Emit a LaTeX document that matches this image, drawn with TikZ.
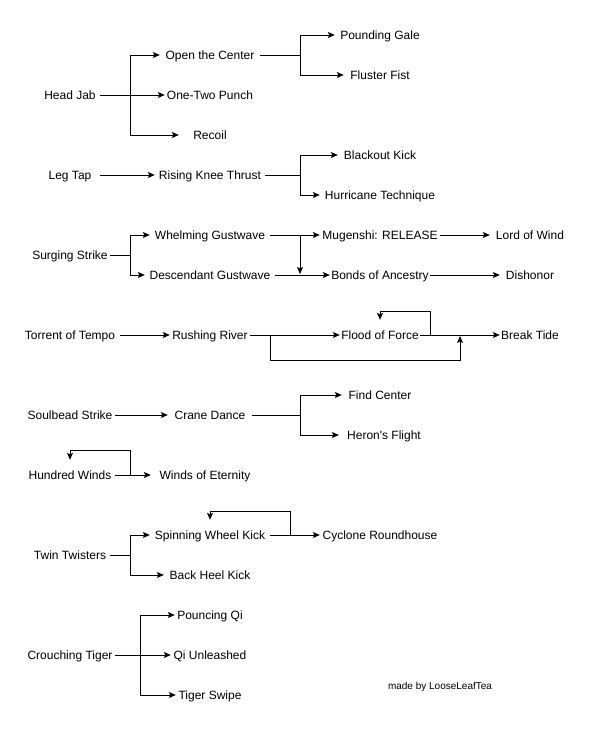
\documentclass[tikz,border=0pt]{standalone}
\usepackage{fontspec}
\setmainfont{Liberation Sans}
\usetikzlibrary{arrows.meta}
\begin{document}
\begin{tikzpicture}[x=1pt,y=-1pt,
  lbl/.style={inner sep=0pt, minimum height=30pt, font=\fontsize{12}{14}\selectfont, text depth=0pt},
  arr/.style={line width=1pt, -{Stealth[length=7pt,width=6pt,inset=1.5pt]}},
  ln/.style={line width=1pt}]
\useasboundingbox[fill=white] (0,0) rectangle (591,731);
% nodes
\node[lbl, minimum width=60pt]  (headjab)   at (70,95)  {Head Jab};
\node[lbl, minimum width=100pt] (openctr)   at (210,55) {Open the Center};
\node[lbl, minimum width=90pt]  (onetwo)    at (210,95) {One-Two Punch};
\node[lbl, minimum width=62pt]  (recoil)    at (210,135) {Recoil};
\node[lbl, minimum width=90pt]  (pounding)  at (380,35) {Pounding Gale};
\node[lbl, minimum width=72pt]  (fluster)   at (380,75) {Fluster Fist};
\node[lbl, minimum width=60pt]  (legtap)    at (70,175) {Leg Tap};
\node[lbl, minimum width=110pt] (rising)    at (210,175) {Rising Knee Thrust};
\node[lbl, minimum width=84pt]  (blackout)  at (380,155) {Blackout Kick};
\node[lbl, minimum width=120pt] (hurricane) at (380,195) {Hurricane Technique};
\node[lbl, minimum width=80pt]  (surging)   at (70,255) {Surging Strike};
\node[lbl, minimum width=120pt] (whelming)  at (210,235) {Whelming Gustwave};
\node[lbl, minimum width=130pt] (descendant) at (210,275) {Descendant Gustwave};
\node[lbl, minimum width=120pt] (mugenshi)  at (380,235) {Mugenshi: RELEASE};
\node[lbl, minimum width=100pt] (bonds)     at (380,275) {Bonds of Ancestry};
\node[lbl, minimum width=80pt]  (lordwind)  at (530,235) {Lord of Wind};
\node[lbl, minimum width=60pt]  (dishonor)  at (530,275) {Dishonor};
\node[lbl, minimum width=100pt] (torrent)   at (70,335) {Torrent of Tempo};
\node[lbl, minimum width=80pt]  (rushing)   at (210,335) {Rushing River};
\node[lbl, minimum width=80pt]  (flood)     at (380,335) {Flood of Force};
\node[lbl, minimum width=60pt]  (breaktide) at (530,335) {Break Tide};
\node[lbl, minimum width=90pt]  (soulbead)  at (70,415) {Soulbead Strike};
\node[lbl, minimum width=84pt]  (crane)     at (210,415) {Crane Dance};
\node[lbl, minimum width=76pt]  (findctr)   at (380,395) {Find Center};
\node[lbl, minimum width=90pt]  (herons)    at (384,435) {Heron\textquotesingle s Flight};
\node[lbl, minimum width=90pt]  (hundred)   at (70,475) {Hundred Winds};
\node[lbl, minimum width=108pt] (eternity)  at (205,475) {Winds of Eternity};
\node[lbl, minimum width=80pt]  (twin)      at (70,555) {Twin Twisters};
\node[lbl, minimum width=120pt] (spinning)  at (210,535) {Spinning Wheel Kick};
\node[lbl, minimum width=120pt] (cyclone)   at (380,535) {Cyclone Roundhouse};
\node[lbl, minimum width=92pt]  (backheel)  at (210,575) {Back Heel Kick};
\node[lbl, minimum width=90pt]  (crouching) at (70,655) {Crouching Tiger};
\node[lbl, minimum width=70pt]  (pouncing)  at (210,615) {Pouncing Qi};
\node[lbl, minimum width=78pt]  (qiunl)     at (210,655) {Qi Unleashed};
\node[lbl, minimum width=68pt]  (swipe)     at (210,695) {Tiger Swipe};
\node[inner sep=0pt, font=\fontsize{10}{12}\selectfont] (madeby) at (440,687) {made by LooseLeafTea};
% free-end coordinates
\coordinate (wmsplit) at (300,235);
\coordinate (dbjoin) at (300,274);
\coordinate (ftjoin) at (460,336);
\coordinate (floodloop) at (430,335);
\coordinate (hwloop) at (130,475);
\coordinate (swkloop) at (290,535);
% edges
\draw[arr] (headjab.east) -- (onetwo.west);
\draw[arr] (headjab.east) -- ++(30,0) |- (openctr.west);
\draw[arr] (headjab.east) -- ++(30,0) |- (recoil.west);
\draw[arr] (openctr.east) -- ++(40,0) |- (pounding.west);
\draw[arr] (openctr.east) -- ++(40,0) |- (fluster.west);
\draw[arr] (legtap.east) -- (rising.west);
\draw[arr] (rising.east) -- ++(35,0) |- (blackout.west);
\draw[arr] (rising.east) -- ++(35,0) |- (hurricane.west);
\draw[arr] (surging.east) -- ++(20,0) |- (whelming.west);
\draw[arr] (surging.east) -- ++(20,0) |- (descendant.west);
\draw[arr] (whelming.east) -- (mugenshi.west);
\draw[arr] (wmsplit) -- (dbjoin);
\draw[arr] (mugenshi.east) -- (lordwind.west);
\draw[arr] (descendant.east) -- (bonds.west);
\draw[arr] (bonds.east) -- (dishonor.west);
\draw[arr] (torrent.east) -- (rushing.west);
\draw[arr] (rushing.east) -- (flood.west);
\draw[arr] (rushing.east) -- ++(20,0) -- ++(0,25) -| (ftjoin);
\draw[arr] (flood.east) -- (breaktide.west);
\draw[arr] (floodloop) -- ++(0,-24) -| (flood.north);
\draw[arr] (soulbead.east) -- (crane.west);
\draw[arr] (crane.east) -- ++(48,0) |- (findctr.west);
\draw[arr] (crane.east) -- ++(48,0) |- (herons.west);
\draw[arr] (hundred.east) -- (eternity.west);
\draw[arr] (hwloop) -- ++(0,-25) -| (hundred.north);
\draw[arr] (twin.east) -- ++(20,0) |- (spinning.west);
\draw[arr] (twin.east) -- ++(20,0) |- (backheel.west);
\draw[arr] (spinning.east) -- (cyclone.west);
\draw[arr] (swkloop) -- ++(0,-24) -| (spinning.north);
\draw[arr] (crouching.east) -- (qiunl.west);
\draw[arr] (crouching.east) -- ++(25,0) |- (pouncing.west);
\draw[arr] (crouching.east) -- ++(25,0) |- (swipe.west);
\end{tikzpicture}
\end{document}
